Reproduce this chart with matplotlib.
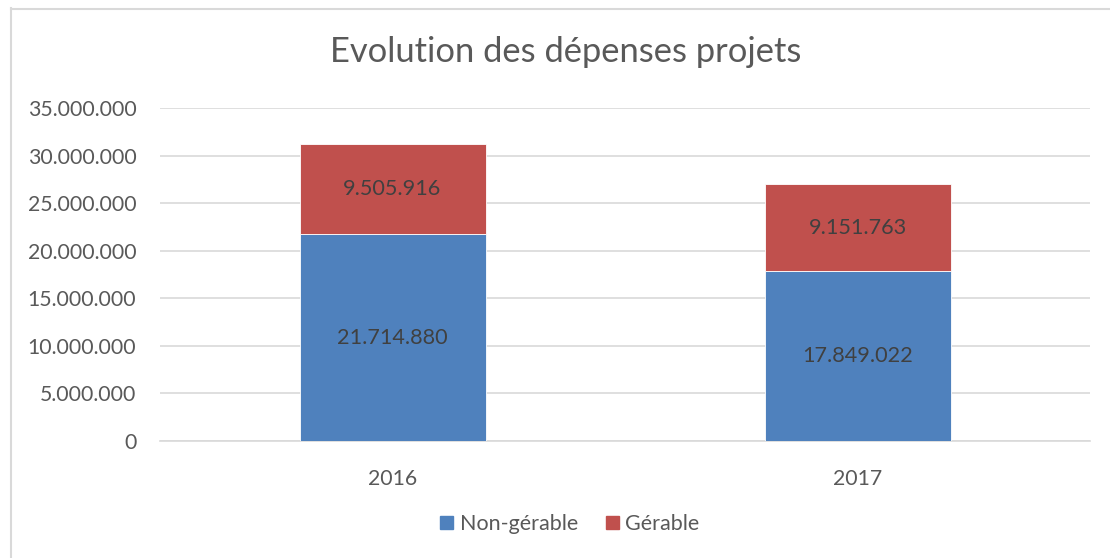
import matplotlib
matplotlib.use("Agg")
import matplotlib.pyplot as plt
from matplotlib.lines import Line2D
from matplotlib.ticker import FuncFormatter

years = ["2016", "2017"]
non_gerable = [21714880, 17849022]
gerable = [9505916, 9151763]
series_names = ["Non-gérable", "Gérable"]
colors = ["#4F81BD", "#C0504D"]

plt.rcParams['font.family'] = ['Lato', 'DejaVu Sans']

W, H = 1110, 558
fig = plt.figure(figsize=(W / 100, H / 100), dpi=100)
ax = fig.add_axes([160 / W, 1 - 441 / H, 930 / W, 333 / H])

def fmt(v):
    return f"{int(round(v)):,}".replace(",", ".")

x = range(len(years))
b1 = ax.bar(x, non_gerable, width=0.4, color=colors[0], edgecolor="white", linewidth=0.6, label=series_names[0], zorder=3)
b2 = ax.bar(x, gerable, width=0.4, bottom=non_gerable, color=colors[1], edgecolor="white", linewidth=0.6, label=series_names[1], zorder=3)

for bars, vals, bottoms in ((b1, non_gerable, [0, 0]), (b2, gerable, non_gerable)):
    for rect, v, b in zip(bars, vals, bottoms):
        ax.text(rect.get_x() + rect.get_width() / 2, b + v / 2, fmt(v),
                ha="center", va="center", fontsize=15.6, color="#404040", zorder=4)

ax.set_xlim(-0.5, 1.5)
ax.set_ylim(0, 35000000)
ax.set_yticks(range(0, 35000001, 5000000))
ax.yaxis.set_major_formatter(FuncFormatter(lambda v, p: fmt(v)))
ax.set_xticks(list(x))
ax.set_xticklabels(years)
ax.tick_params(axis="both", length=0, labelsize=15.3, labelcolor="#595959")
ax.tick_params(axis="y", pad=17)
ax.tick_params(axis="x", pad=20)
ax.grid(axis="y", color="#D9D9D9", linewidth=1.2, zorder=0)
for s in ["top", "right", "left"]:
    ax.spines[s].set_visible(False)
ax.spines["bottom"].set_color("#D9D9D9")
ax.spines["bottom"].set_linewidth(1.2)

fig.text(566 / W, 1 - 52 / H, "Evolution des dépenses projets", ha="center", va="center",
         fontsize=24.8, color="#595959")

handles = [plt.Rectangle((0, 0), 1, 1, color=c) for c in colors]
fig.legend(handles, series_names, loc="center", bbox_to_anchor=(570 / W, 1 - 524 / H),
           ncol=2, frameon=False, fontsize=15.5, labelcolor="#595959",
           handlelength=0.6, handleheight=0.6, handletextpad=0.3, columnspacing=1.3)

# chart border (left and top visible)
fig.add_artist(Line2D([10.5 / W, 10.5 / W], [0, 1 - 8 / H], color="#D9D9D9", linewidth=1.5, transform=fig.transFigure))
fig.add_artist(Line2D([10.5 / W, 1], [1 - 8.5 / H, 1 - 8.5 / H], color="#D9D9D9", linewidth=1.5, transform=fig.transFigure))

fig.savefig("out.png", dpi=100, facecolor="white")
